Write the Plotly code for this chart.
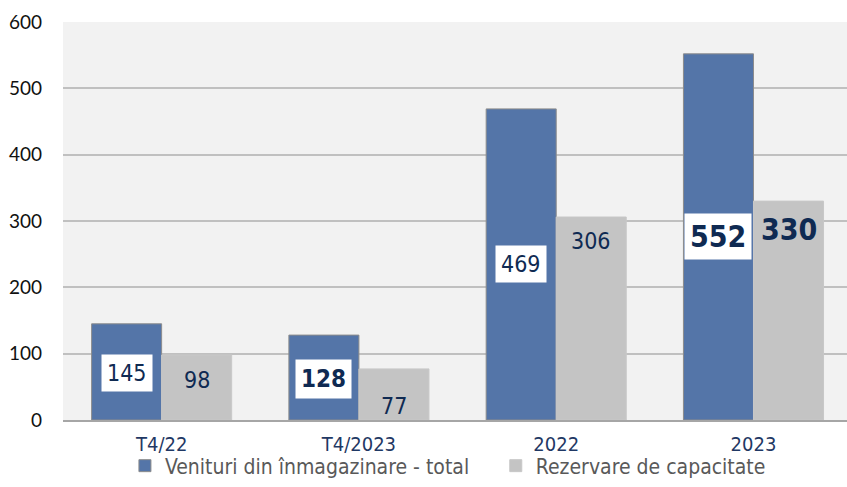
import plotly.graph_objects as go

categories = ["T4/22", "T4/2023", "2022", "2023"]
venituri = [145, 128, 469, 552]
rezervare = [98, 77, 306, 330]
series_names = ["Venituri din înmagazinare - total", "Rezervare de capacitate"]
y_ticks = [0, 100, 200, 300, 400, 500, 600]

# label styling (position fraction of bar height, bold, size)
ven_lbl_frac = [0.49, 0.48, 0.50, 0.50]
ven_lbl_bold = [False, True, False, True]
ven_lbl_size = [23, 24, 23, 30]
rez_lbl_frac = [0.61, 0.27, 0.88, 0.87]
rez_lbl_bold = [False, False, False, True]
rez_lbl_size = [23, 23, 23, 30]

BLUE = "#5475A8"
GRAY = "#C4C4C4"
NAVY = "#0F2A52"
NARROW = "DejaVu Sans Condensed, DejaVu Sans, sans-serif"

fig = go.Figure()
fig.add_trace(go.Bar(x=categories, y=venituri, name=series_names[0], legend="legend",
                     marker=dict(color=BLUE, line=dict(color="#8C8C8C", width=1))))
fig.add_trace(go.Bar(x=categories, y=rezervare, name=series_names[1], legend="legend2",
                     marker=dict(color=GRAY, line=dict(color="#C8C8C8", width=1))))

off = 0.1775
for i, c in enumerate(categories):
    v = venituri[i]
    t = f"<b>{v}</b>" if ven_lbl_bold[i] else str(v)
    fig.add_annotation(x=i - off, y=v * ven_lbl_frac[i], xref="x", yref="y", text=t,
                       showarrow=False, bgcolor="white", borderpad=5,
                       font=dict(family=NARROW, size=ven_lbl_size[i], color=NAVY))
    r = rezervare[i]
    t = f"<b>{r}</b>" if rez_lbl_bold[i] else str(r)
    fig.add_annotation(x=i + off, y=r * rez_lbl_frac[i], xref="x", yref="y", text=t,
                       showarrow=False,
                       font=dict(family=NARROW, size=rez_lbl_size[i], color=NAVY))

legend_common = dict(orientation="h", xanchor="left", y=-0.1156, yanchor="middle",
                     font=dict(family=NARROW, size=21, color="#595959"),
                     bgcolor="rgba(0,0,0,0)", itemwidth=30)

fig.update_layout(
    width=847, height=487,
    margin=dict(l=63, r=0, t=22, b=67, autoexpand=False),
    paper_bgcolor="white", plot_bgcolor="#F2F2F2",
    barmode="group", bargap=0.29, bargroupgap=0,
    showlegend=True,
    legend=dict(x=0.079, **legend_common),
    legend2=dict(x=0.552, **legend_common),
    xaxis=dict(type="category", range=[-0.5, 3.474], showgrid=False,
               showline=True, linecolor="#A6A6A6", linewidth=2,
               tickfont=dict(family=NARROW, size=20, color="#1F3864"),
               ticks="", ticklabelstandoff=5),
    yaxis=dict(range=[0, 600], tickvals=y_ticks, showgrid=True, gridcolor="#C0C0C0",
               gridwidth=2, zeroline=False, showline=False,
               tickfont=dict(family="Lato, sans-serif", size=19, color="#111111"),
               ticklabelstandoff=20),
)
fig.write_html("out.html", config={"displayModeBar": False},
               post_script="document.body.style.margin='0';document.body.style.overflow='hidden';")
